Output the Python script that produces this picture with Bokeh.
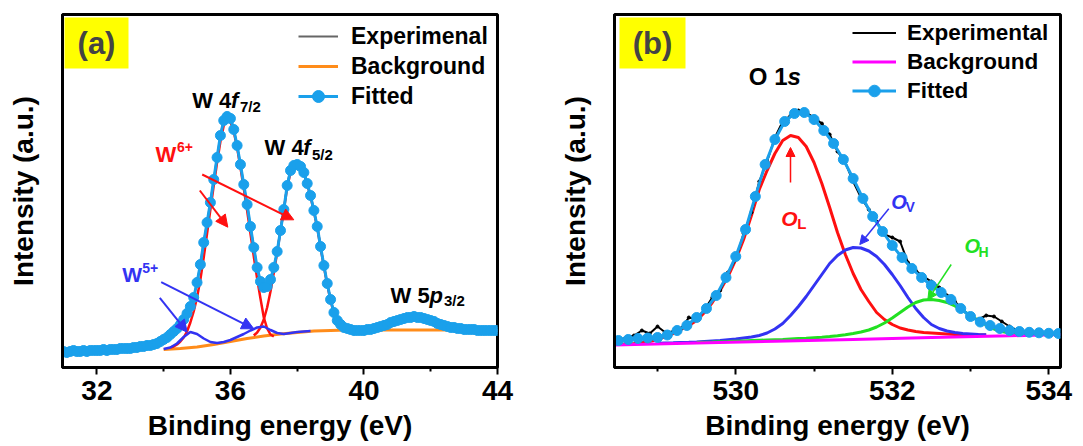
import numpy as np
from bokeh.plotting import figure
from bokeh.models import (Range1d, FixedTicker, Legend, LegendItem, Label,
                          Arrow, NormalHead, BoxAnnotation)
from bokeh.layouts import row
from bokeh.embed import file_html
from bokeh.resources import INLINE

FONT = "Liberation Sans"
FIT_C = "#1AA0EB"
RED = "#FF1010"
BLUE = "#3333F2"
GREEN = "#22E022"
ORANGE = "#FF8C1A"
MAGENTA = "#FF00FF"
GRAY = "#666666"

# ---------------- panel (a): W 4f ----------------
a_energy = np.round(np.arange(31.0, 44.0001, 0.1), 2)
a_fitted = [16, 15, 16, 17, 16, 16, 17, 16, 17, 17,
            17, 17, 18, 17, 18, 18, 18, 19, 19, 19,
            19, 20, 20, 21, 21, 22, 22, 23, 24, 26,
            28, 30, 33, 36, 39, 43, 48, 54, 61, 70,
            85, 103, 125, 145, 165, 188, 210, 232, 247, 251,
            249, 238, 222, 203, 183, 163, 141, 120, 100, 86,
            80, 81, 88, 100, 116, 137, 158, 182, 197, 202,
            203, 201, 195, 184, 172, 157, 141, 121, 102, 84,
            68, 55, 47, 43, 40, 39, 38, 37, 37, 37,
            37, 38, 38, 39, 40, 41, 42, 43, 45, 46,
            47, 48, 49, 50, 50, 51, 50, 50, 49, 48,
            47, 46, 44, 43, 42, 41, 40, 40, 39, 39,
            38, 38, 38, 38, 37, 37, 37, 37, 37, 37,
            37]
a_experimental = [17, 14, 17, 16, 15, 17, 16, 15, 18, 16,
                  16, 18, 17, 16, 19, 17, 18, 20, 18, 19,
                  20, 19, 21, 20, 22, 21, 23, 22, 25, 25,
                  29, 29, 34, 35, 40, 42, 49, 53, 62, 69,
                  86, 102, 126, 144, 166, 187, 211, 231, 249, 253,
                  250, 239, 221, 204, 182, 164, 140, 121, 99, 87,
                  79, 82, 87, 101, 115, 138, 157, 183, 198, 204,
                  204, 200, 196, 183, 173, 156, 142, 120, 103, 83,
                  69, 54, 48, 42, 41, 38, 39, 36, 38, 36,
                  38, 37, 39, 38, 41, 40, 43, 42, 46, 45,
                  48, 47, 50, 49, 51, 53, 50, 51, 48, 49,
                  46, 47, 43, 44, 41, 42, 39, 41, 38, 40,
                  37, 39, 37, 38, 36, 38, 36, 37, 38, 36,
                  37]
a_bg_energy = np.round(np.arange(34.0, 42.5001, 0.5), 2)
a_background = [18, 19, 20.5, 23, 26, 29, 31.5, 33.5, 35, 36.5,
                37, 37.5, 37.5, 37.5, 37.5, 37.5, 37.5, 37.5]
a_w6_72_energy = np.round(np.arange(34.2, 37.3001, 0.1), 2)
a_w6_72 = [20, 21, 23, 26, 30, 36, 45, 56,
           70, 88, 110, 134, 158, 182, 205, 226, 242, 248,
           246, 236, 220, 200, 179, 157, 134, 111, 89, 69,
           50, 39, 33, 31]
a_w6_52_energy = np.round(np.arange(36.7, 39.5001, 0.1), 2)
a_w6_52 = [32, 35, 40, 48, 60, 76, 95, 115, 137, 158,
           180, 195, 201, 202, 200, 194, 183, 171, 156, 140,
           120, 101, 83, 67, 54, 46, 41, 38.5, 37.5]
a_w5_energy = np.round(np.arange(34.0, 38.4001, 0.2), 2)
a_w5 = [18.5, 20, 24, 30.5, 35.5, 33.5, 29, 25.5, 24.5, 25.5,
        27.5, 30.5, 33.5, 37, 40, 41, 37.5, 34.5, 33.5, 34.5,
        35.5, 36, 36.5]
a_xticks = [32, 36, 40, 44]
a_xminor = [34, 38, 42]

# ---------------- panel (b): O 1s ----------------
b_fit_energy = np.round(np.arange(528.5, 534.13, 0.125), 3)
b_fitted = [27, 28, 29, 29.5, 30, 32.5, 37, 42, 50, 59,
            72, 90, 111, 138, 171, 203, 228, 246, 254, 255,
            248, 237, 224, 208, 189, 169, 151, 136, 122, 110,
            99, 90, 82, 75, 68, 59, 51, 45.5, 42, 39,
            37, 36, 35.2, 34.7, 34.2, 34]
b_exp_energy = np.round(np.arange(528.5, 534.1001, 0.1), 2)
b_experimental = [27, 30, 32, 37, 34, 41, 35, 36, 39, 50,
                  48, 58, 70, 77, 95, 108, 134, 155, 186, 206,
                  230, 246, 252, 257, 255, 250, 244, 233, 216, 205,
                  186, 170, 158, 146, 133, 130, 126, 105, 97, 91,
                  86, 80, 72, 66, 58, 50, 48, 52, 51, 46,
                  41, 37, 35, 35, 34, 34, 34]
b_bg_energy = [528.45, 529.5, 530.5, 531.5, 532.5, 533.5, 534.15]
b_background = [22.5, 24.5, 26.3, 28.1, 29.9, 31.7, 32.9]
b_ol_energy = np.round(np.arange(528.5, 533.2001, 0.1), 2)
b_ol = [23, 23.5, 24, 25, 26, 28, 31, 34, 38, 42,
        47, 55, 65, 77, 91, 108, 128, 152, 178, 197,
        214, 227, 232, 230, 221, 205, 184, 160, 135, 113,
        94, 78, 66, 55, 48, 43, 39.5, 37.5, 36, 35,
        34.5, 34, 33.5, 33, 32.8, 32.6, 32.5, 32.5]
b_ov_energy = np.round(np.arange(529.0, 533.2001, 0.1), 2)
b_ov = [24.3, 24.5, 24.7, 25, 25.2, 25.5, 26, 26.5, 27, 27.8,
        28.5, 29.5, 30.5, 32, 34.5, 38.5, 44, 52, 61, 71,
        82, 93, 104, 112, 117.5, 120, 119.5, 116.5, 111, 103,
        93, 82, 70, 59, 50, 43, 39, 36.5, 35, 34,
        33.5, 33, 32.8]
b_oh_energy = np.round(np.arange(529.5, 533.6001, 0.1), 2)
b_oh = [25, 25.3, 25.5, 25.8, 26, 26.3, 26.6, 26.9, 27.2, 27.5,
        27.8, 28.1, 28.5, 28.9, 29.3, 29.8, 30.3, 31, 31.8, 32.8,
        34, 35.5, 37.5, 40.5, 44.5, 49.5, 55, 60.5, 65, 67.5,
        68, 67, 65, 61.5, 57, 52, 47, 42.5, 38.5, 36,
        34.5, 33.5]
b_xticks = [530, 532, 534]
b_xminor = [529, 531, 533]

# ---------------- layout constants ----------------
H = 446
TOP, BOTTOM = 14, 79
FRAME_H = H - TOP - BOTTOM          # 353
A_W, A_L, A_R = 540, 62, 43
B_W, B_L, B_R = 543, 74, 23
B_OFFSET = A_W
A_XR = (30.97, 44.0)
B_XR = (528.45, 534.15)


def make_fig(width, bl, br, xr, ticks, minor):
    p = figure(width=width, height=H, x_range=Range1d(*xr), y_range=Range1d(0, FRAME_H),
               output_backend="svg", toolbar_location=None,
               min_border_left=bl, min_border_right=br, min_border_top=TOP, min_border_bottom=BOTTOM)
    p.grid.visible = False
    p.background_fill_color = "white"
    p.border_fill_color = "white"
    p.outline_line_color = "black"
    p.outline_line_width = 3
    p.outline_line_alpha = 1

    xa = p.xaxis[0]
    xa.ticker = FixedTicker(ticks=ticks, minor_ticks=minor)
    xa.axis_line_width = 3
    xa.axis_line_color = "black"
    xa.major_tick_out = 7
    xa.major_tick_in = 0
    xa.minor_tick_out = 4
    xa.minor_tick_in = 0
    xa.major_tick_line_width = 2
    xa.minor_tick_line_width = 2
    xa.major_tick_line_color = "black"
    xa.minor_tick_line_color = "black"
    xa.major_label_text_font = FONT
    xa.major_label_text_font_style = "bold"
    xa.major_label_text_font_size = "28px"
    xa.major_label_text_color = "black"
    xa.major_label_standoff = 6
    xa.axis_label = "Binding energy (eV)"
    xa.axis_label_text_font = FONT
    xa.axis_label_text_font_style = "bold"
    xa.axis_label_text_font_size = "28px"
    xa.axis_label_text_color = "black"
    xa.axis_label_standoff = 7

    ya = p.yaxis[0]
    ya.ticker = FixedTicker(ticks=[], minor_ticks=[])
    ya.axis_line_width = 3
    ya.axis_line_color = "black"
    ya.major_tick_out = 0
    ya.minor_tick_out = 0
    ya.major_label_standoff = 0
    ya.axis_label = "Intensity (a.u.)"
    ya.axis_label_text_font = FONT
    ya.axis_label_text_font_style = "bold"
    ya.axis_label_text_font_size = "28px"
    ya.axis_label_text_color = "black"
    ya.axis_label_standoff = 24
    return p


def converters(xr, bl, width, br, offset):
    fw = width - bl - br

    def cx(px):
        return xr[0] + (px - offset - bl) * (xr[1] - xr[0]) / fw

    def cy(py):
        return (TOP + FRAME_H) - py
    return cx, cy


def add_text(p, x, y, text, size, color="black", style="bold"):
    p.add_layout(Label(x=x, y=y, text=text, text_font=FONT, text_font_size=f"{size}px",
                       text_font_style=style, text_color=color,
                       text_align="left", text_baseline="alphabetic"))


def add_arrow(p, x0, y0, x1, y1, color, head, lw):
    p.add_layout(Arrow(end=NormalHead(size=head, fill_color=color, line_color=color, line_width=1),
                       x_start=x0, y_start=y0, x_end=x1, y_end=y1,
                       line_color=color, line_width=lw))


# ================= Panel (a) =================
pa = make_fig(A_W, A_L, A_R, A_XR, a_xticks, a_xminor)
ax, ay = converters(A_XR, A_L, A_W, A_R, 0)

bg_a = pa.line(a_bg_energy, a_background, line_color=ORANGE, line_width=3)
pa.line(a_w6_72_energy, a_w6_72, line_color=RED, line_width=2.5)
pa.line(a_w6_52_energy, a_w6_52, line_color=RED, line_width=2.5)
pa.line(a_w5_energy, a_w5, line_color=BLUE, line_width=2.5)
exp_a_line = pa.line(a_energy, a_experimental, line_color=GRAY, line_width=2)
pa.scatter(a_energy, a_experimental, size=3, color=GRAY)
fit_a_line = pa.line(a_energy, a_fitted, line_color=FIT_C, line_width=3)
fit_a_dot = pa.scatter(a_energy, a_fitted, size=10, fill_color=FIT_C, line_color=FIT_C)

leg_a = Legend(items=[LegendItem(label="Experimenal", renderers=[exp_a_line]),
                      LegendItem(label="Background", renderers=[bg_a]),
                      LegendItem(label="Fitted", renderers=[fit_a_line, fit_a_dot])],
               location=(236, 256), glyph_width=40, glyph_height=30, label_height=30,
               spacing=0, padding=0, margin=0, label_standoff=13,
               border_line_alpha=0, background_fill_alpha=0,
               label_text_font=FONT, label_text_font_style="bold", label_text_font_size="23px",
               label_text_color="black")
pa.add_layout(leg_a)

pa.add_layout(BoxAnnotation(left=ax(64), right=ax(128), top=ay(17), bottom=ay(68),
                            fill_color="#FFFF00", fill_alpha=1, line_color=None))
pa.add_layout(Label(x=ax(96), y=ay(43), text="(a)", text_font=FONT, text_font_size="31px",
                    text_font_style="bold", text_align="center", text_baseline="middle"))

add_text(pa, ax(191.7), ay(100), "W 4", 22)
add_text(pa, ax(230.5), ay(100), "f", 22, style="bold italic")
add_text(pa, ax(239.5), ay(106), "7/2", 15)
add_text(pa, ax(264), ay(147), "W 4", 22)
add_text(pa, ax(302.8), ay(147), "f", 22, style="bold italic")
add_text(pa, ax(311.5), ay(154), "5/2", 15)
add_text(pa, ax(390), ay(295), "W 5", 22)
add_text(pa, ax(429), ay(295), "p", 22, style="bold italic")
add_text(pa, ax(443.5), ay(300), "3/2", 15)
add_text(pa, ax(155), ay(153.5), "W", 22, color=RED)
add_text(pa, ax(176.5), ay(146.5), "6+", 14, color=RED)
add_text(pa, ax(121.7), ay(274), "W", 21, color=BLUE)
add_text(pa, ax(141.7), ay(267), "5+", 14, color=BLUE)

add_arrow(pa, ax(201.7), ay(174), ax(293.3), ay(219.3), RED, 12, 2)
add_arrow(pa, ax(199.3), ay(190), ax(227.3), ay(226.7), RED, 12, 2)
add_arrow(pa, ax(160.7), ay(281.7), ax(253.3), ay(328.3), BLUE, 12, 2)
add_arrow(pa, ax(159.3), ay(297.3), ax(186.7), ay(331.7), BLUE, 12, 2)

# ================= Panel (b) =================
pb = make_fig(B_W, B_L, B_R, B_XR, b_xticks, b_xminor)
bx, by = converters(B_XR, B_L, B_W, B_R, B_OFFSET)

pb.line(b_ol_energy, b_ol, line_color=RED, line_width=3)
pb.line(b_ov_energy, b_ov, line_color=BLUE, line_width=3)
pb.line(b_oh_energy, b_oh, line_color=GREEN, line_width=3)
bg_b = pb.line(b_bg_energy, b_background, line_color=MAGENTA, line_width=3)
exp_b_line = pb.line(b_exp_energy, b_experimental, line_color="black", line_width=2)
pb.scatter(b_exp_energy, b_experimental, size=3, color="black")
fit_b_line = pb.line(b_fit_energy, b_fitted, line_color=FIT_C, line_width=3)
fit_b_dot = pb.scatter(b_fit_energy, b_fitted, size=10, fill_color=FIT_C, line_color=FIT_C)

leg_b = Legend(items=[LegendItem(label="Experimental", renderers=[exp_b_line]),
                      LegendItem(label="Background", renderers=[bg_b]),
                      LegendItem(label="Fitted", renderers=[fit_b_line, fit_b_dot])],
               location=(238, 262), glyph_width=44, glyph_height=29, label_height=29,
               spacing=0, padding=0, margin=0, label_standoff=11,
               border_line_alpha=0, background_fill_alpha=0,
               label_text_font=FONT, label_text_font_style="bold", label_text_font_size="22.5px",
               label_text_color="black")
pb.add_layout(leg_b)

pb.add_layout(BoxAnnotation(left=bx(619), right=bx(685), top=by(17), bottom=by(68),
                            fill_color="#FFFF00", fill_alpha=1, line_color=None))
pb.add_layout(Label(x=bx(652), y=by(43), text="(b)", text_font=FONT, text_font_size="31px",
                    text_font_style="bold", text_align="center", text_baseline="middle"))

add_text(pb, bx(748.3), by(76), "O 1", 24)
add_text(pb, bx(787), by(76), "s", 24, style="bold italic")
add_text(pb, bx(780.7), by(218.3), "O", 21, color=RED, style="bold italic")
add_text(pb, bx(796.7), by(222.7), "L", 15, color=RED)
add_text(pb, bx(890.7), by(201.7), "O", 20, color=BLUE, style="bold italic")
add_text(pb, bx(905), by(206), "V", 14, color=BLUE)
add_text(pb, bx(964), by(245), "O", 20, color=GREEN, style="bold italic")
add_text(pb, bx(978), by(251.7), "H", 14, color=GREEN)

add_arrow(pb, bx(790), by(182), bx(790), by(147), RED, 9, 1.5)
add_arrow(pb, bx(888.3), by(208.3), bx(859.3), by(244), BLUE, 9, 1.5)
add_arrow(pb, bx(950.7), by(264), bx(927.3), by(299.3), GREEN, 9, 1.5)

layout = row(pa, pb)
open("out.html", "w").write(file_html(layout, INLINE))
